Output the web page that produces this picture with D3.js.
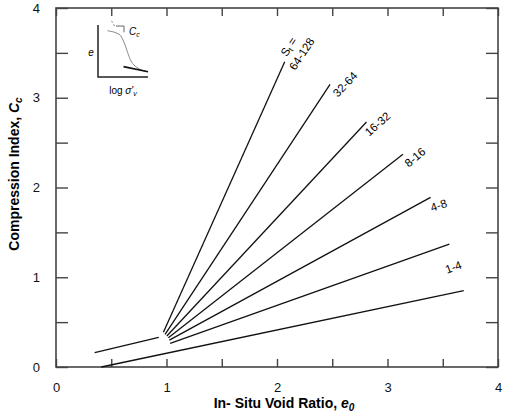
<!DOCTYPE html>
<html>
<head>
<meta charset="utf-8">
<script src="https://cdn.jsdelivr.net/npm/d3@7"></script>
<style>
  body { margin: 0; background: #fff; }
  text { font-family: "Liberation Sans", Arial, sans-serif; }
</style>
</head>
<body>
<svg id="vis"></svg>
<script>
// sensitivity groups and the fan of lines
var groups = ["1-4", "4-8", "8-16", "16-32", "32-64", "64-128"];
var startE0 = [1.033, 1.026, 1.017, 1.003, 0.987, 0.972];
var startCc = [0.264, 0.300, 0.326, 0.345, 0.364, 0.386];
var endE0 = [3.56, 3.39, 3.14, 2.81, 2.48, 2.07];
var endCc = [1.37, 1.89, 2.37, 2.73, 3.15, 3.40];

// two unlabelled lines
var extraStartE0 = [0.41, 0.35];
var extraStartCc = [0.00, 0.16];
var extraEndE0 = [3.69, 0.93];
var extraEndCc = [0.85, 0.33];

var xTicks = [0, 0.5, 1, 1.5, 2, 2.5, 3, 3.5, 4];
var yTicks = [0, 0.5, 1, 1.5, 2, 2.5, 3, 3.5, 4];

// inset sketch (normalised log sigma'v, e)
var insetLogS = [0.19, 0.44, 0.50, 0.67, 0.77, 1.00];
var insetE = [0.89, 0.81, 0.71, 0.29, 0.19, 0.10];

var margin = {top: 8, right: 11, bottom: 52, left: 56},
    width = 509 - margin.left - margin.right,
    height = 419 - margin.top - margin.bottom;

var svg = d3.select("#vis")
    .attr("width", 509)
    .attr("height", 419)
    .append("g")
    .attr("transform", "translate(" + margin.left + "," + margin.top + ")");

var xScale = d3.scaleLinear().domain([0, 4]).range([0, width]);
var yScale = d3.scaleLinear().domain([0, 4]).range([height, 0]);

function intLabel(d) { return d % 1 === 0 ? d : ""; }

svg.append("g")
    .attr("class", "x axis")
    .attr("transform", "translate(0," + height + ")")
    .call(d3.axisBottom(xScale).tickValues(xTicks).tickSizeInner(-8).tickSizeOuter(0)
        .tickPadding(16).tickFormat(intLabel));

svg.append("g")
    .attr("class", "x axis")
    .call(d3.axisTop(xScale).tickValues(xTicks).tickSizeInner(-8).tickSizeOuter(0)
        .tickFormat(""));

svg.append("g")
    .attr("class", "y axis")
    .call(d3.axisLeft(yScale).tickValues(yTicks).tickSizeInner(-12).tickSizeOuter(0)
        .tickPadding(16).tickFormat(intLabel));

svg.append("g")
    .attr("class", "y axis")
    .attr("transform", "translate(" + width + ",0)")
    .call(d3.axisRight(yScale).tickValues(yTicks).tickSizeInner(-12).tickSizeOuter(0)
        .tickFormat(""));

svg.selectAll(".axis .domain").remove();
svg.selectAll(".axis line").attr("stroke", "#444").attr("stroke-width", 1.4);
svg.selectAll(".axis text").attr("font-size", 13).attr("fill", "#111")
    .style("font-family", "Liberation Sans, Arial, sans-serif");

svg.append("rect")
    .attr("width", width)
    .attr("height", height)
    .attr("fill", "none")
    .attr("stroke", "#444")
    .attr("stroke-width", 1.6);

// axis titles
var xt = svg.append("text")
    .attr("x", 228)
    .attr("y", height + 41)
    .attr("text-anchor", "middle")
    .attr("font-size", 14)
    .attr("font-weight", "bold")
    .text("In- Situ Void Ratio, ");
xt.append("tspan").attr("font-style", "italic").text("e");
xt.append("tspan").attr("font-style", "italic").attr("font-size", 10).attr("dy", 3).text("0");

var yt = svg.append("text")
    .attr("transform", "translate(-37," + 166 + ") rotate(-90)")
    .attr("text-anchor", "middle")
    .attr("font-size", 14)
    .attr("font-weight", "bold")
    .text("Compression Index, ");
yt.append("tspan").attr("font-style", "italic").text("C");
yt.append("tspan").attr("font-style", "italic").attr("font-size", 10).attr("dy", 3).text("c");

// fan lines
var fan = groups.map(function (g, i) {
    return {label: g, x0: startE0[i], y0: startCc[i], x1: endE0[i], y1: endCc[i]};
});
var extra = extraStartE0.map(function (d, i) {
    return {x0: d, y0: extraStartCc[i], x1: extraEndE0[i], y1: extraEndCc[i]};
});

svg.selectAll(".fan")
    .data(fan.concat(extra))
    .enter().append("line")
    .attr("class", "fan")
    .attr("x1", function (d) { return xScale(d.x0); })
    .attr("y1", function (d) { return yScale(d.y0); })
    .attr("x2", function (d) { return xScale(d.x1); })
    .attr("y2", function (d) { return yScale(d.y1); })
    .attr("stroke", "#111")
    .attr("stroke-width", 1.3);

// label placement relative to line ends: dx, dy (px), angle
var labelPos = [
    {dx: 4, dy: 23, rot: -20},
    {dx: 8, dy: 8, rot: -18},
    {dx: 12, dy: 3, rot: -40},
    {dx: 11, dy: 2, rot: -42},
    {dx: 15, dy: 0, rot: -46},
    {dx: 17, dy: -8, rot: -57}
];

svg.selectAll(".lbl")
    .data(fan)
    .enter().append("text")
    .attr("class", "lbl")
    .attr("font-size", 11.5)
    .attr("text-anchor", "middle")
    .attr("dy", "0.35em")
    .attr("transform", function (d, i) {
        var p = labelPos[i];
        return "translate(" + (xScale(d.x1) + p.dx) + "," + (yScale(d.y1) + p.dy) + ") rotate(" + p.rot + ")";
    })
    .text(function (d) { return d.label; });

// S_t =
var steepest = fan[fan.length - 1];
var st = svg.append("text")
    .attr("font-size", 11.5)
    .attr("text-anchor", "middle")
    .attr("dy", "0.35em")
    .attr("transform", "translate(" + (xScale(steepest.x1) + 4) + "," + (yScale(steepest.y1) - 15) + ") rotate(-57)")
    .text("S");
st.append("tspan").attr("font-size", 8).attr("dy", 2).text("t");
st.append("tspan").attr("dy", -2).text(" =");

// inset
var ix = d3.scaleLinear().domain([0, 1]).range([42, 92]);
var iy = d3.scaleLinear().domain([0, 1]).range([69, 17]);
var inset = svg.append("g");

inset.append("path")
    .attr("d", "M" + ix(0) + "," + iy(1) + "V" + iy(0) + "H" + ix(1))
    .attr("fill", "none")
    .attr("stroke", "#222")
    .attr("stroke-width", 1.5);

var curve = d3.line()
    .x(function (d, i) { return ix(insetLogS[i]); })
    .y(function (d, i) { return iy(insetE[i]); })
    .curve(d3.curveMonotoneX);

inset.append("path")
    .attr("d", curve(insetLogS))
    .attr("fill", "none")
    .attr("stroke", "#888")
    .attr("stroke-width", 1);

inset.append("line")
    .attr("x1", ix(0.27)).attr("y1", iy(1.08))
    .attr("x2", ix(0.35)).attr("y2", iy(0.95))
    .attr("stroke", "#888").attr("stroke-dasharray", "2,2");

inset.append("path")
    .attr("d", "M" + ix(0.36) + "," + iy(0.98) + "H" + ix(0.52) + "V" + iy(0.86))
    .attr("fill", "none")
    .attr("stroke", "#666")
    .attr("stroke-width", 1);

inset.append("line")
    .attr("x1", ix(0.51)).attr("y1", iy(0.20))
    .attr("x2", ix(1.0)).attr("y2", iy(0.10))
    .attr("stroke", "#111").attr("stroke-width", 1.6);

var cc = inset.append("text")
    .attr("x", ix(0.62)).attr("y", iy(0.80))
    .attr("font-size", 10)
    .attr("font-style", "italic")
    .text("C");
cc.append("tspan").attr("font-size", 7).attr("dy", 2).text("c");

inset.append("text")
    .attr("x", ix(-0.14)).attr("y", iy(0.48))
    .attr("font-size", 10)
    .attr("font-style", "italic")
    .attr("text-anchor", "middle")
    .attr("dy", "0.35em")
    .text("e");

var ls = inset.append("text")
    .attr("x", ix(0.5)).attr("y", iy(-0.32))
    .attr("font-size", 10)
    .attr("text-anchor", "middle")
    .text("log ");
ls.append("tspan").attr("font-style", "italic").text("σ'");
ls.append("tspan").attr("font-style", "italic").attr("font-size", 7).attr("dy", 2).text("v");
</script>
</body>
</html>
